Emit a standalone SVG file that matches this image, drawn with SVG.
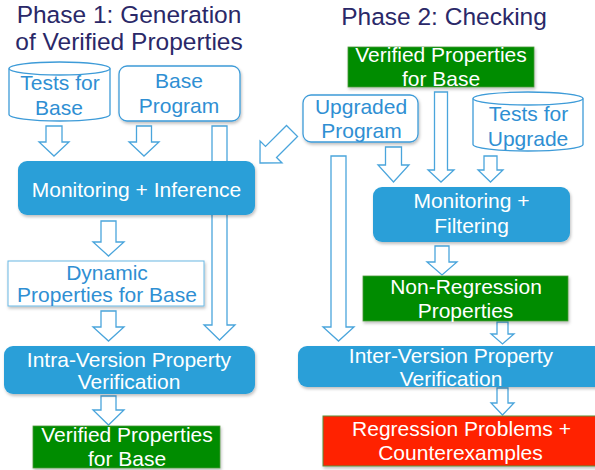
<svg xmlns="http://www.w3.org/2000/svg" width="595" height="470" viewBox="0 0 595 470">
<style>
.bg{fill:#ffffff}
.title{font-family:"Liberation Sans",Arial,sans-serif;font-size:24.5px;fill:#2a2868;text-anchor:middle}
.t{font-family:"Liberation Sans",Arial,sans-serif;font-size:21px;text-anchor:middle}
.tb{fill:#2f8fd3}
.tw{fill:#ffffff}
.arrow{fill:#ffffff;stroke:#4aa5dc;stroke-width:1.3;stroke-linejoin:miter}
.outline{fill:#ffffff;stroke:#3d9bd8;stroke-width:1.3}
.blue{fill:#2c9fd8}
.green{fill:#008c00;stroke:#4f9a3c;stroke-width:0.8}
.red{fill:#ff2200;stroke:#5a8f3a;stroke-width:1}
</style>
<defs>
<filter id="sh" x="-10%" y="-10%" width="130%" height="140%">
<feDropShadow dx="1" dy="2" stdDeviation="1.5" flood-color="#000000" flood-opacity="0.25"/>
</filter>
</defs>
<rect class="bg" x="0" y="0" width="595" height="470"/>

<g id="titles">
<text class="title" x="129" y="23">Phase 1: Generation</text>
<text class="title" x="129" y="50">of Verified Properties</text>
<text class="title" x="444" y="25">Phase 2: Checking</text>
</g>

<g id="connectors">
<path class="arrow" d="M46,126 H62 V142 H69 L54,156 L39,142 H46 Z"/>
<path class="arrow" d="M136.5,126 H151.5 V142 H159 L144,156 L129,142 H136.5 Z"/>
<path class="arrow" d="M212,126 H227 V325 H235 L219.5,340 L204,325 H212 Z"/>
<path class="arrow" d="M101,221 H116 V242 H124 L108.5,256 L93,242 H101 Z"/>
<path class="arrow" d="M101,311 H116 V327 H124 L108.5,341 L93,327 H101 Z"/>
<path class="arrow" d="M101,396 H116 V410 H124 L108.5,425 L93,410 H101 Z"/>
<path class="arrow" transform="translate(260,163) rotate(45)" d="M-7.8,-45.3 H7.8 V-15.6 H15.5 L0,0 L-15.5,-15.6 H-7.8 Z"/>
<path class="arrow" d="M385.5,147 H401.5 V165 H409 L393.5,182 L378,165 H385.5 Z"/>
<path class="arrow" d="M434.5,92 H447.5 V170 H454 L441,182 L428,170 H434.5 Z"/>
<path class="arrow" d="M484,156 H497 V170 H503 L490.5,182 L478,170 H484 Z"/>
<path class="arrow" d="M331,156 H346 V327 H354 L338.5,341 L323,327 H331 Z"/>
<path class="arrow" d="M435,246 H449 V262 H457 L442,275 L427,262 H435 Z"/>
<path class="arrow" d="M497,322 H508 V334 H514 L502.5,344 L491,334 H497 Z"/>
<path class="arrow" d="M497,388 H508 V403 H514 L502.5,415 L491,403 H497 Z"/>
</g>

<g id="tests-for-base">
<path class="outline" d="M9,68.5 V114.5 A50.5,6.5 0 0 0 110,114.5 V68.5"/>
<ellipse class="outline" cx="59.5" cy="68.5" rx="50.5" ry="6.5"/>
<text class="t tb" x="60" y="90">Tests for</text>
<text class="t tb" x="59" y="115">Base</text>
</g>

<g id="base-program">
<rect class="outline" x="119" y="66" width="121" height="55" rx="8" filter="url(#sh)"/>
<text class="t tb" x="179" y="88">Base</text>
<text class="t tb" x="179" y="113">Program</text>
</g>

<g id="monitoring-inference">
<rect class="blue" x="18" y="161" width="237" height="54" rx="9" filter="url(#sh)"/>
<text class="t tw" x="136.5" y="197">Monitoring + Inference</text>
</g>

<g id="dynamic-properties">
<rect x="8" y="261" width="196" height="45" fill="#ffffff" stroke="#6ab8e4" stroke-width="1" filter="url(#sh)"/>
<text class="t tb" x="107" y="280">Dynamic</text>
<text class="t tb" x="107" y="302">Properties for Base</text>
</g>

<g id="intra-version">
<rect class="blue" x="4" y="346" width="251" height="48" rx="9" filter="url(#sh)"/>
<text class="t tw" x="129" y="367">Intra-Version Property</text>
<text class="t tw" x="129" y="389">Verification</text>
</g>

<g id="verified-properties-1">
<rect class="green" x="33" y="426" width="187" height="42" filter="url(#sh)"/>
<text class="t tw" x="127" y="442">Verified Properties</text>
<text class="t tw" x="127" y="466">for Base</text>
</g>

<g id="verified-properties-2">
<rect class="green" x="348" y="47" width="186" height="40" filter="url(#sh)"/>
<text class="t tw" x="441" y="62">Verified Properties</text>
<text class="t tw" x="441" y="86">for Base</text>
</g>

<g id="upgraded-program">
<rect class="outline" x="303" y="95" width="115" height="47" rx="8" filter="url(#sh)"/>
<text class="t tb" x="361" y="114">Upgraded</text>
<text class="t tb" x="361.5" y="138">Program</text>
</g>

<g id="tests-for-upgrade">
<path class="outline" d="M473,98.5 V144.5 A55,6.5 0 0 0 583,144.5 V98.5"/>
<ellipse class="outline" cx="528" cy="98.5" rx="55" ry="6.5"/>
<text class="t tb" x="528.5" y="121">Tests for</text>
<text class="t tb" x="528" y="146">Upgrade</text>
</g>

<g id="monitoring-filtering">
<rect class="blue" x="373" y="187" width="197" height="55" rx="9" filter="url(#sh)"/>
<text class="t tw" x="471.5" y="208">Monitoring +</text>
<text class="t tw" x="471.5" y="233">Filtering</text>
</g>

<g id="non-regression">
<rect class="green" x="363" y="276" width="205" height="45" filter="url(#sh)"/>
<text class="t tw" x="466" y="294">Non-Regression</text>
<text class="t tw" x="465.5" y="318">Properties</text>
</g>

<g id="inter-version">
<rect class="blue" x="298" y="346" width="312" height="41" rx="9" filter="url(#sh)"/>
<text class="t tw" x="451" y="363">Inter-Version Property</text>
<text class="t tw" x="451" y="386">Verification</text>
</g>

<g id="regression-problems">
<rect class="red" x="323" y="416" width="280" height="50" filter="url(#sh)"/>
<text class="t tw" x="461.5" y="436">Regression Problems +</text>
<text class="t tw" x="460.5" y="460">Counterexamples</text>
</g>
</svg>
